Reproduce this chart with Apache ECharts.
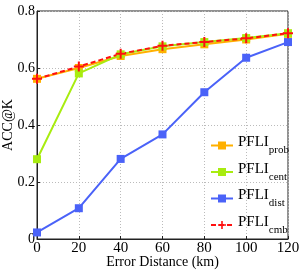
<!DOCTYPE html>
<html><head><meta charset="utf-8">
<script src="https://cdn.jsdelivr.net/npm/echarts@6/dist/echarts.min.js"></script>
<style>html,body{margin:0;padding:0;background:#fff}#c{width:300px;height:273px}</style>
</head><body><div id="c"></div>
<script>
const xCats = [0, 20, 40, 60, 80, 100, 120];
const probVals = [0.562, 0.600, 0.642, 0.666, 0.683, 0.700, 0.720];
const centVals = [0.280, 0.581, 0.648, 0.676, 0.691, 0.705, 0.722];
const distVals = [0.023, 0.108, 0.281, 0.367, 0.515, 0.636, 0.691];
const cmbVals  = [0.562, 0.605, 0.650, 0.678, 0.691, 0.704, 0.722];
const seriesNames = ['prob', 'cent', 'dist', 'cmb'];
const yTicks = [0, 0.2, 0.4, 0.6, 0.8];

const font = 'Liberation Serif';
const plus = 'path://M4,0 H6 V4 H10 V6 H6 V10 H4 V6 H0 V4 H4 Z';
function pts(v){ return xCats.map((x,i)=>[x, v[i]]); }
const chart = echarts.init(document.getElementById('c'));
chart.setOption({
  animation:false,
  grid:{left:37,right:12,top:11,bottom:34,show:true,borderColor:'#222',borderWidth:1,outerBoundsMode:'none',containLabel:false},
  xAxis:{type:'value',min:0,max:120,interval:20,
    name:'Error Distance (km)',nameLocation:'middle',nameGap:16,nameMoveOverlap:false,
    nameTextStyle:{fontFamily:font,fontSize:14,color:'#000'},
    axisLine:{lineStyle:{color:'#222'}},axisTick:{inside:true,length:3,lineStyle:{color:'#222'}},
    axisLabel:{fontFamily:font,fontSize:15,color:'#000',margin:2},
    splitLine:{show:true,lineStyle:{type:[1,2],color:'#bbb'}}},
  yAxis:{type:'value',min:0,max:0.8,interval:0.2,
    name:'ACC@K',nameLocation:'middle',nameGap:22,nameMoveOverlap:false,
    nameTextStyle:{fontFamily:font,fontSize:14,color:'#000'},
    axisLine:{show:true,lineStyle:{color:'#222'}},axisTick:{show:true,inside:true,length:3,lineStyle:{color:'#222'}},
    axisLabel:{fontFamily:font,fontSize:14,color:'#000',margin:2,formatter:v=>String(+v.toFixed(1))},
    splitLine:{show:true,lineStyle:{type:[1,2],color:'#bbb'}}},
  legend:{orient:'vertical',right:6,top:130,itemGap:5.5,itemWidth:22,itemHeight:10,
    data:seriesNames,
    formatter:n=>'{a|PFLI}{b|'+n+'}',
    textStyle:{rich:{
      a:{fontFamily:font,fontSize:15,color:'#000',verticalAlign:'top',lineHeight:21},
      b:{fontFamily:font,fontSize:11,color:'#000',verticalAlign:'bottom',padding:[10,0,0,0],lineHeight:21}}}},
  series:[
    {name:'prob',type:'line',data:pts(probVals),color:'#ffb000',symbol:'rect',symbolSize:8,lineStyle:{width:2}},
    {name:'cent',type:'line',data:pts(centVals),color:'#a8ec10',symbol:'rect',symbolSize:8,lineStyle:{width:2}},
    {name:'dist',type:'line',data:pts(distVals),color:'#4a62f8',symbol:'rect',symbolSize:8,lineStyle:{width:2}},
    {name:'cmb',type:'line',data:pts(cmbVals),color:'#ff1010',symbol:plus,symbolSize:10,lineStyle:{width:2,type:[5,3]}}
  ]
});
</script></body></html>
